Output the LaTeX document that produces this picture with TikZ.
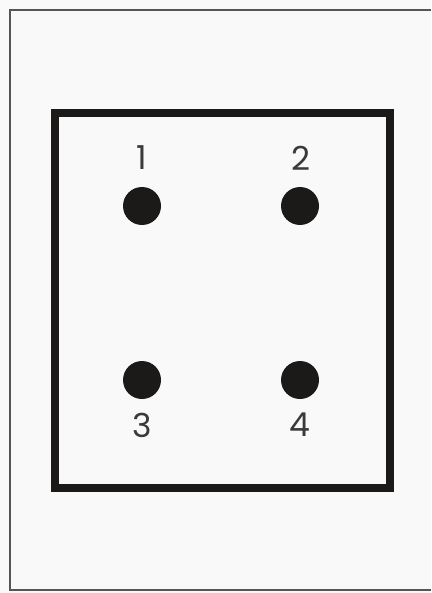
\documentclass[tikz,border=0pt]{standalone}
\usepackage{fontspec}
\setmainfont{Poppins}
\definecolor{bgc}{HTML}{F9F9F9}
\definecolor{inkc}{HTML}{1C1A18}
\definecolor{framec}{HTML}{555555}
\definecolor{txtc}{HTML}{3A3A3A}
\begin{document}
\begin{tikzpicture}[x=1pt,y=-1pt,
  dot/.style={circle,fill=inkc,draw=none,minimum size=38pt,inner sep=0pt},
  num/.style={text=txtc,font=\fontsize{33}{34}\selectfont,inner sep=0pt},
  frameline/.style={draw=framec,line width=2pt},
  board/.style={draw=inkc,line width=7.5pt}]
\fill[bgc] (0,0) rectangle (431,593);
\useasboundingbox (0,0) rectangle (431,593);
\draw[frameline] (431,10.5) -- (9.5,10.5) -- (9.5,590) -- (431,590);
\draw[board] (55,113) rectangle (390,488);
\node[dot] (d1) at (142,206) {};
\node[dot] (d2) at (300,206) {};
\node[dot] (d3) at (142,380) {};
\node[dot] (d4) at (300,380) {};
\node[num] (l1) at (142,158) {1};
\node[num] (l2) at (301,158) {2};
\node[num] (l3) at (142,425) {3};
\node[num] (l4) at (300,425) {4};
\end{tikzpicture}
\end{document}
